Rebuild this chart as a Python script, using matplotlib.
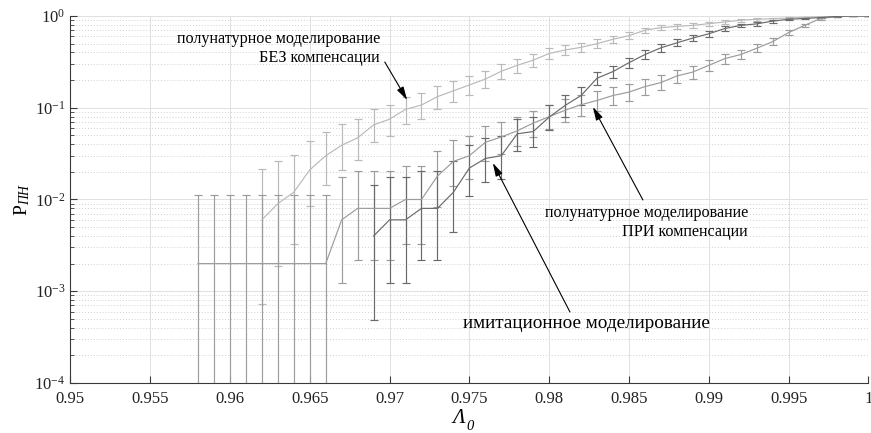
import numpy as np
import matplotlib
matplotlib.use('Agg')
import matplotlib.pyplot as plt
from matplotlib.ticker import FixedLocator, LogLocator, NullFormatter, NullLocator

plt.rcParams['font.family'] = ['Liberation Serif', 'DejaVu Serif']
plt.rcParams['mathtext.fontset'] = 'custom'
plt.rcParams['mathtext.rm'] = 'Liberation Serif'
plt.rcParams['mathtext.it'] = 'Liberation Serif:italic'
plt.rcParams['mathtext.bf'] = 'Liberation Serif:bold'

# ---- series 1: полунатурное моделирование БЕЗ компенсации ----
lam_bez = [0.962, 0.963, 0.964, 0.965, 0.966, 0.967, 0.968, 0.969, 0.970, 0.971,
           0.972, 0.973, 0.974, 0.975, 0.976, 0.977, 0.978, 0.979, 0.980, 0.981,
           0.982, 0.983, 0.984, 0.985, 0.986, 0.987, 0.988, 0.989, 0.990, 0.991,
           0.992, 0.993, 0.994, 0.995, 0.996, 0.997, 0.998, 0.999, 1.000]
p_bez = [0.006, 0.009, 0.012, 0.021, 0.030, 0.039, 0.047, 0.065, 0.075, 0.096,
         0.107, 0.132, 0.153, 0.177, 0.205, 0.25, 0.29, 0.33, 0.39, 0.426,
         0.455, 0.50, 0.557, 0.61, 0.70, 0.746, 0.77, 0.79, 0.825, 0.86,
         0.90, 0.92, 0.935, 0.95, 0.967, 0.98, 0.994, 1.0, 1.0]
lo_bez = [0.00073, 0.0019, 0.0033, 0.0085, 0.0145, 0.021, 0.027, 0.042, 0.049, 0.066,
          0.076, 0.098, 0.116, 0.138, 0.163, 0.204, 0.242, 0.28, 0.337, 0.373,
          0.40, 0.445, 0.502, 0.557, 0.648, 0.696, 0.721, 0.742, 0.78, 0.818,
          0.863, 0.886, 0.904, 0.92, 0.942, 0.958, 0.978, 0.989, 0.989]
hi_bez = [0.0215, 0.026, 0.0305, 0.043, 0.0545, 0.066, 0.076, 0.098, 0.108, 0.132,
          0.145, 0.173, 0.196, 0.222, 0.252, 0.298, 0.341, 0.382, 0.444, 0.48,
          0.51, 0.555, 0.611, 0.662, 0.748, 0.792, 0.814, 0.832, 0.864, 0.894,
          0.93, 0.946, 0.958, 0.97, 0.983, 0.993, 0.999, 1.0, 1.0]

# ---- series 2: полунатурное моделирование ПРИ компенсации ----
lam_pri = [0.958, 0.959, 0.960, 0.961, 0.962, 0.963, 0.964, 0.965, 0.966, 0.967,
           0.968, 0.969, 0.970, 0.971, 0.972, 0.973, 0.974, 0.975, 0.976, 0.977,
           0.978, 0.979, 0.980, 0.981, 0.982, 0.983, 0.984, 0.985, 0.986, 0.987,
           0.988, 0.989, 0.990, 0.991, 0.992, 0.993, 0.994, 0.995, 0.996, 0.997,
           0.998, 0.999, 1.000]
p_pri = [0.002, 0.002, 0.002, 0.002, 0.002, 0.002, 0.002, 0.002, 0.002, 0.006,
         0.008, 0.008, 0.008, 0.010, 0.010, 0.018, 0.026, 0.030, 0.042, 0.048,
         0.056, 0.068, 0.080, 0.094, 0.108, 0.12, 0.136, 0.148, 0.17, 0.188,
         0.222, 0.245, 0.29, 0.343, 0.38, 0.445, 0.525, 0.66, 0.79, 0.94,
         0.98, 1.0, 1.0]
lo_pri = [5e-5, 5e-5, 5e-5, 5e-5, 5e-5, 5e-5, 5e-5, 5e-5, 5e-5, 0.00124,
          0.0022, 0.0022, 0.0022, 0.0033, 0.0033, 0.0083, 0.014, 0.0169, 0.026, 0.031,
          0.038, 0.048, 0.058, 0.07, 0.082, 0.093, 0.107, 0.118, 0.138, 0.155,
          0.186, 0.208, 0.25, 0.301, 0.337, 0.401, 0.48, 0.616, 0.752, 0.915,
          0.964, 0.993, 0.993]
hi_pri = [0.0111, 0.0111, 0.0111, 0.0111, 0.0111, 0.0111, 0.0111, 0.0111, 0.0111, 0.0174,
          0.0204, 0.0204, 0.0204, 0.0232, 0.0232, 0.034, 0.044, 0.049, 0.063, 0.07,
          0.08, 0.093, 0.107, 0.123, 0.139, 0.152, 0.17, 0.183, 0.206, 0.225,
          0.261, 0.285, 0.332, 0.387, 0.424, 0.49, 0.569, 0.702, 0.824, 0.959,
          0.99, 1.0, 1.0]

# ---- series 3: имитационное моделирование ----
lam_imit = [0.969, 0.970, 0.971, 0.972, 0.973, 0.974, 0.975, 0.976, 0.977, 0.978,
            0.979, 0.980, 0.981, 0.982, 0.983, 0.984, 0.985, 0.986, 0.987, 0.988,
            0.989, 0.990, 0.991, 0.992, 0.993, 0.994, 0.995, 0.996, 0.997, 0.998,
            0.999, 1.000]
p_imit = [0.004, 0.006, 0.006, 0.008, 0.008, 0.012, 0.022, 0.028, 0.030, 0.052,
          0.055, 0.079, 0.106, 0.136, 0.21, 0.248, 0.31, 0.38, 0.45, 0.51,
          0.575, 0.64, 0.73, 0.79, 0.82, 0.88, 0.92, 0.94, 0.96, 0.99,
          1.0, 1.0]
lo_imit = [0.00049, 0.00124, 0.00124, 0.0022, 0.0022, 0.0044, 0.011, 0.0154, 0.0169, 0.034,
           0.037, 0.057, 0.08, 0.107, 0.175, 0.211, 0.27, 0.337, 0.406, 0.465,
           0.53, 0.596, 0.689, 0.752, 0.784, 0.849, 0.894, 0.917, 0.94, 0.977,
           0.993, 0.993]
hi_imit = [0.0144, 0.0174, 0.0174, 0.0204, 0.0204, 0.026, 0.039, 0.0465, 0.049, 0.075,
           0.079, 0.106, 0.137, 0.17, 0.248, 0.288, 0.352, 0.424, 0.495, 0.555,
           0.618, 0.682, 0.768, 0.824, 0.852, 0.906, 0.942, 0.958, 0.975, 0.997,
           1.0, 1.0]

xticks = [0.95, 0.955, 0.96, 0.965, 0.97, 0.975, 0.98, 0.985, 0.99, 0.995, 1.0]
xticklabels = ['0.95', '0.955', '0.96', '0.965', '0.97', '0.975', '0.98', '0.985',
               '0.99', '0.995', '1']

fig = plt.figure(figsize=(8.71, 4.33), dpi=100)
ax = fig.add_axes([0.0807, 0.1155, 0.9164, 0.8476])
ax.set_yscale('log')

series = [
    (lam_bez, p_bez, lo_bez, hi_bez, '#bababa'),
    (lam_pri, p_pri, lo_pri, hi_pri, '#9c9c9c'),
    (lam_imit, p_imit, lo_imit, hi_imit, '#6a6a6a'),
]
for x, y, lo, hi, col in series:
    y = np.array(y)
    yerr = [y - np.array(lo), np.array(hi) - y]
    ax.errorbar(x, y, yerr=yerr, color=col, lw=0.85, elinewidth=0.85,
                capsize=3.2, capthick=0.85, zorder=3)

ax.set_xlim(0.95, 1.0)
ax.set_ylim(1e-4, 1)
ax.xaxis.set_major_locator(FixedLocator(xticks))
ax.set_xticklabels(xticklabels)
ax.xaxis.set_minor_locator(NullLocator())
ax.yaxis.set_major_locator(LogLocator(base=10, numticks=10))
ax.yaxis.set_minor_locator(LogLocator(base=10, subs=np.arange(2, 10), numticks=20))
ax.yaxis.set_minor_formatter(NullFormatter())

ax.grid(which='major', axis='both', color='#e0e0e0', lw=0.7, ls='-', zorder=0)
ax.yaxis.grid(which='minor', color='#d2d2d2', lw=0.7, ls=(0, (1, 2)), zorder=0)

for s in ['top', 'right']:
    ax.spines[s].set_visible(False)
for s in ['left', 'bottom']:
    ax.spines[s].set_color('#3a3a3a')
    ax.spines[s].set_linewidth(0.8)
ax.tick_params(which='both', direction='in', top=False, right=False,
               colors='#3a3a3a', labelcolor='#222222', labelsize=12)
ax.tick_params(axis='x', which='major', pad=6)
ax.tick_params(which='major', length=5)
ax.tick_params(which='minor', length=3)

# x label: italic Lambda with italic subscript 0
fig.text(0.5345, 0.022, 'Λ', fontsize=15, style='italic', ha='right', va='baseline')
fig.text(0.5350, 0.008, '0', fontsize=10.5, style='italic', ha='left', va='baseline')
ax.set_ylabel(r'$\mathregular{P}_{\mathit{ПН}}$', fontsize=14, labelpad=2)

arrow = dict(arrowstyle='-|>,head_length=0.8,head_width=0.22', color='black',
             lw=0.8, shrinkA=0, shrinkB=0)

ax.annotate('', xy=(0.9711, 0.1215), xytext=(0.9697, 0.315), arrowprops=arrow, zorder=5)
ax.text(0.9694, 0.44, 'полунатурное моделирование\nБЕЗ компенсации',
        ha='right', va='center', multialignment='right', fontsize=11.6,
        linespacing=1.2, zorder=6)

ax.annotate('', xy=(0.98274, 0.102), xytext=(0.98587, 0.00988), arrowprops=arrow, zorder=5)
ax.text(0.99244, 0.0056, 'полунатурное моделирование\nПРИ компенсации',
        ha='right', va='center', multialignment='right', fontsize=11.6,
        linespacing=1.2, zorder=6)

ax.annotate('', xy=(0.97647, 0.025), xytext=(0.9813, 5.94e-4), arrowprops=arrow, zorder=5)
ax.text(0.98236, 4.5e-4, 'имитационное моделирование', ha='center', va='center',
        fontsize=13.8, zorder=6)

fig.savefig('out.png', dpi=100)
